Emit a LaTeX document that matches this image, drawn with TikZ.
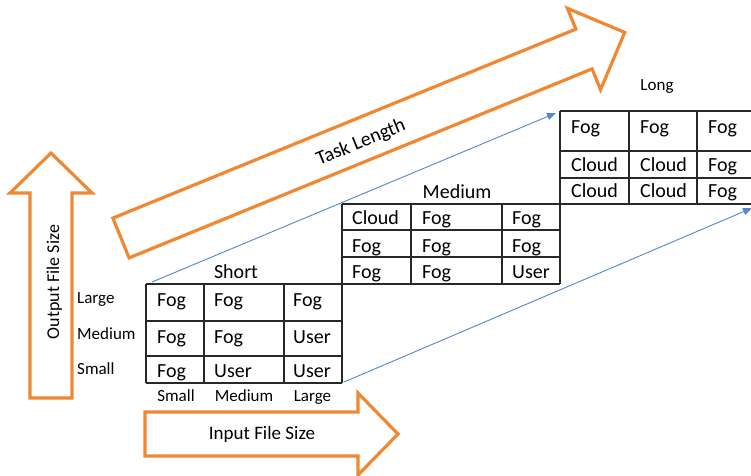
\documentclass[tikz,border=0pt]{standalone}
\usepackage{fontspec}
\setmainfont{Carlito}
\usetikzlibrary{arrows.meta}
\definecolor{orng}{RGB}{240,135,50}
\definecolor{blu}{RGB}{80,135,205}
\definecolor{gridc}{RGB}{40,40,40}
\tikzset{
 bigarrow/.style={draw=orng, line width=3.2pt, line join=miter, fill=white},
 cell/.style={anchor=base west, inner sep=0pt, font=\fontsize{20}{24}\selectfont},
 axlbl/.style={anchor=base west, inner sep=0pt, font=\fontsize{17}{20}\selectfont},
 collbl/.style={anchor=base, inner sep=0pt, font=\fontsize{17}{20}\selectfont},
 ttl/.style={anchor=base, inner sep=0pt, font=\fontsize{20}{24}\selectfont},
 tbl/.style={draw=gridc, line width=1.2pt},
 link/.style={draw=blu, line width=0.9pt, -{Triangle[length=9pt,width=7pt]}},
}
\begin{document}
\begin{tikzpicture}[x=1pt,y=-1pt]
\useasboundingbox (0,0) rectangle (751,475);

% orange arrows
\draw[bigarrow] (112.9,218.1) -- (575.9,29.1) -- (567.4,8.3) -- (624.7,32.4)
  -- (600.6,89.7) -- (592.1,68.9) -- (129.1,257.9) -- cycle;
\node[rotate=22.2, inner sep=0pt, font=\fontsize{20}{24}\selectfont] (tasklen) at (361,143) {Task Length};

\draw[bigarrow] (30,398) -- (30,193) -- (10,193) -- (51,153) -- (92,193) -- (72,193) -- (72,398) -- cycle;
\node[rotate=90, anchor=base, inner sep=0pt, font=\fontsize{18}{22}\selectfont] (outsize) at (59,282) {Output File Size};

\draw[bigarrow] (145,412) -- (358,412) -- (358,393) -- (398,434) -- (358,475) -- (358,456) -- (145,456) -- cycle;
\node[anchor=base, inner sep=0pt, font=\fontsize{19}{23}\selectfont] (insize) at (262,439) {Input File Size};

% blue connectors
\coordinate (s-corner) at (152,282);
\coordinate (l-corner) at (556,113);
\coordinate (s-br) at (344,382);
\coordinate (l-br) at (752,208);
\draw[link] (s-corner) -- (l-corner);
\draw[link] (s-br) -- (l-br);

% tables grid
% Short
\foreach \x in {146,204,284,342} \draw[tbl] (\x,284) -- (\x,383);
\foreach \y in {284,321,356,383} \draw[tbl] (146,\y) -- (342,\y);
% Medium
\foreach \x in {342,411,502,560} \draw[tbl] (\x,204) -- (\x,284);
\foreach \y in {204,230,257,284} \draw[tbl] (342,\y) -- (560,\y);
% Long
\foreach \x in {560,629,697} \draw[tbl] (\x,111) -- (\x,204);
\foreach \y in {111,151,178,204} \draw[tbl] (560,\y) -- (751,\y);

% Short cells
\foreach \r/\yb/\a/\b/\c in {1/306/Fog/Fog/Fog, 2/343/Fog/Fog/User, 3/377/Fog/User/User}{
  \node[cell] (s-\r-1) at (157,\yb) {\a};
  \node[cell] (s-\r-2) at (214,\yb) {\b};
  \node[cell] (s-\r-3) at (293,\yb) {\c};
}
% Medium cells
\foreach \r/\yb/\a/\b/\c in {1/224/Cloud/Fog/Fog, 2/252/Fog/Fog/Fog, 3/278/Fog/Fog/User}{
  \node[cell] (m-\r-1) at (352,\yb) {\a};
  \node[cell] (m-\r-2) at (422,\yb) {\b};
  \node[cell] (m-\r-3) at (512,\yb) {\c};
}
% Long cells
\foreach \r/\yb/\a/\b/\c in {1/133/Fog/Fog/Fog, 2/171/Cloud/Cloud/Fog, 3/197/Cloud/Cloud/Fog}{
  \node[cell] (l-\r-1) at (571,\yb) {\a};
  \node[cell] (l-\r-2) at (640,\yb) {\b};
  \node[cell] (l-\r-3) at (708,\yb) {\c};
}

% titles
\node[ttl] (t-short) at (236,278) {Short};
\node[ttl] (t-medium) at (457,198) {Medium};
\node[ttl, font=\fontsize{17}{20}\selectfont] (t-long) at (657,90) {Long};

% row labels
\node[axlbl] (r-large) at (77,303) {Large};
\node[axlbl] (r-medium) at (77,339) {Medium};
\node[axlbl] (r-small) at (77,374) {Small};

% column labels
\node[collbl] (c-small) at (176,401) {Small};
\node[collbl] (c-medium) at (244,401) {Medium};
\node[collbl] (c-large) at (312.5,401) {Large};
\end{tikzpicture}
\end{document}
